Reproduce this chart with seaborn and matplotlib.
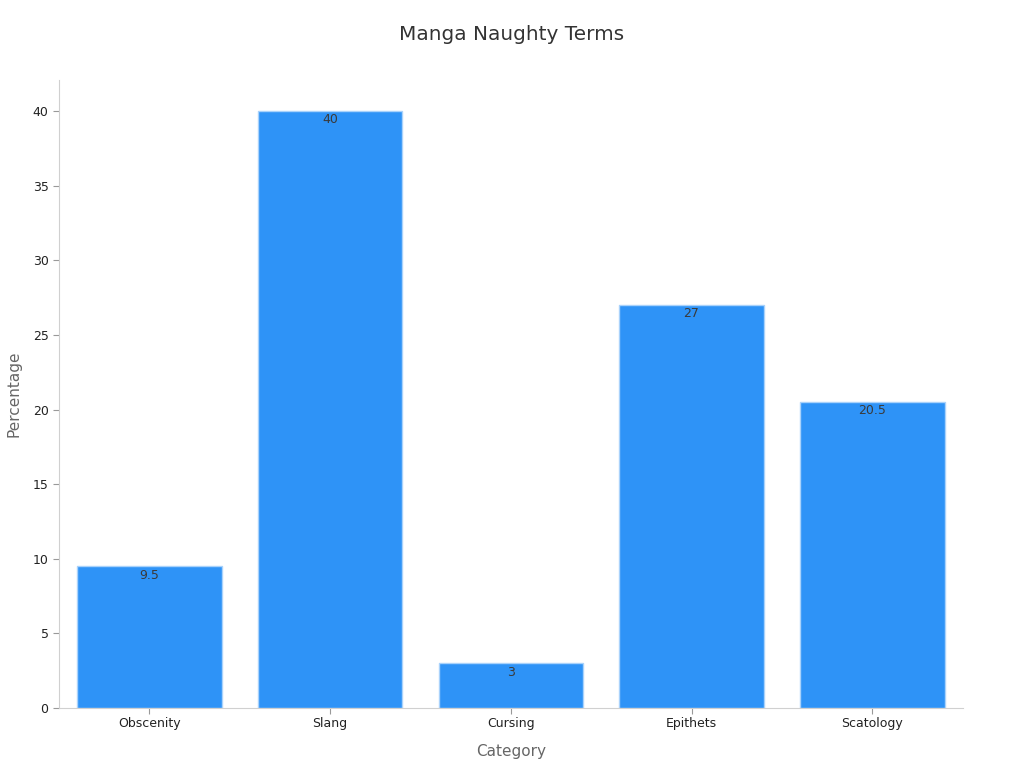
import matplotlib
matplotlib.use('Agg')
import matplotlib.pyplot as plt
import seaborn as sns
import pandas as pd

categories = ['Obscenity', 'Slang', 'Cursing', 'Epithets', 'Scatology']
percentages = [9.5, 40, 3, 27, 20.5]

def main() -> None:
    sns.set_theme(style='white')
    plt.rcParams['font.family'] = ['DejaVu Sans']
    df = pd.DataFrame({'Category': categories, 'Percentage': percentages})

    f = plt.figure(figsize=(10.24, 7.68), dpi=100)
    ax = f.add_axes([0.0576, 0.078, 0.8825, 0.818])
    sns.barplot(
        data=df,
        x='Category',
        y='Percentage',
        color='#2e93f7',
        saturation=1,
        width=0.8,
        edgecolor='#a9d2fb',
        linewidth=1,
        ax=ax,
    )
    for c in ax.containers:
        ax.bar_label(c, labels=[f'{v:g}' for v in percentages], padding=-11,
                     fontsize=9, color='#3a3a3a')

    ax.set_xlim(-0.5, 4.5)
    ax.set_ylim(0, 42.1)
    ax.set_yticks(range(0, 41, 5))
    ax.tick_params(axis='both', which='both', length=4, width=0.8, color='#999999',
                   labelsize=9, labelcolor='#222222', bottom=True, left=True)
    ax.tick_params(axis='x', pad=2.5)
    sns.despine(ax=ax)
    for s in ['left', 'bottom']:
        ax.spines[s].set_color('#d0d0d0')
        ax.spines[s].set_linewidth(0.8)
    ax.set_xlabel('Category', fontsize=11, color='#666666', labelpad=10)
    ax.set_ylabel('Percentage', fontsize=11, color='#666666', labelpad=8)
    f.suptitle('Manga Naughty Terms', fontsize=14.4, color='#333333', y=0.968)
    f.savefig('out.png', dpi=100)

if __name__ == '__main__':
    main()
